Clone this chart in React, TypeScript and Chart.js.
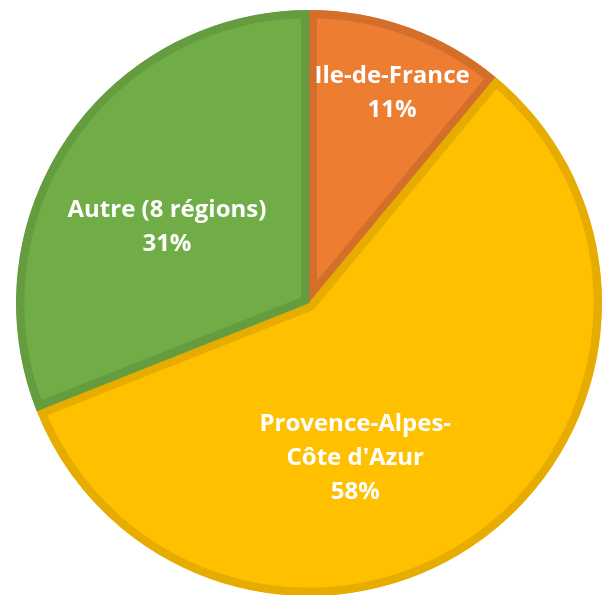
import React, { useEffect, useRef } from "react";
import { Chart, registerables } from "chart.js";

Chart.register(...registerables);

const categories: string[][] = [["Ile-de-France"], ["Provence-Alpes-", "Côte d'Azur"], ["Autre (8 régions)"]];
const values: number[] = [11, 58, 31];
const percentLabels: string[] = ["11%", "58%", "31%"];
const fillColors: string[] = ["#ED7D31", "#FFC000", "#70AD47"];
const borderColors: string[] = ["#D46F2B", "#E6AC00", "#659C3F"];
// label anchor: fraction along the slice angle, fraction of radius
const labelAngleFrac: number[] = [0.545, 0.593, 0.446];
const labelRadiusFrac: number[] = [0.771, 0.553, 0.55];

const labelPlugin = {
  id: "sliceLabels",
  afterDatasetsDraw(chart: any) {
    const ctx = chart.ctx;
    const meta = chart.getDatasetMeta(0);
    ctx.save();
    ctx.fillStyle = "#FFFFFF";
    ctx.font = "bold 24px 'Open Sans'";
    ctx.textAlign = "center";
    ctx.textBaseline = "middle";
    const lineH = 34;
    meta.data.forEach((arc: any, i: number) => {
      const p = arc.getProps(["x", "y", "startAngle", "endAngle", "outerRadius"], true);
      const a = p.startAngle + labelAngleFrac[i] * (p.endAngle - p.startAngle);
      const r = p.outerRadius * labelRadiusFrac[i];
      const cx = p.x + Math.cos(a) * r;
      const cy = p.y + Math.sin(a) * r;
      const lines = [...categories[i], percentLabels[i]];
      const top = cy - ((lines.length - 1) * lineH) / 2;
      lines.forEach((t, k) => ctx.fillText(t, cx, top + k * lineH));
    });
    ctx.restore();
  },
};

export default function App() {
  const ref = useRef<HTMLCanvasElement>(null);
  useEffect(() => {
    if (!ref.current) return;
    const chart = new Chart(ref.current, {
      type: "pie",
      data: {
        labels: categories.map((c) => c.join(" ")),
        datasets: [
          {
            data: values,
            backgroundColor: fillColors,
            borderColor: borderColors,
            borderWidth: 8,
            borderAlign: "inner",
          } as any,
        ],
      },
      options: {
        animation: false,
        responsive: false,
        maintainAspectRatio: false,
        layout: { padding: 0 },
        plugins: { legend: { display: false }, tooltip: { enabled: false } },
      },
      plugins: [labelPlugin],
    });
    return () => chart.destroy();
  }, []);
  return (
    <div style={{ position: "fixed", left: 0, top: 0, width: "100vw", height: "100vh", overflow: "hidden", background: "#fff" }}>
      <canvas ref={ref} width={586} height={586} style={{ position: "absolute", left: 16, top: 10, width: 586, height: 586 }} />
    </div>
  );
}
